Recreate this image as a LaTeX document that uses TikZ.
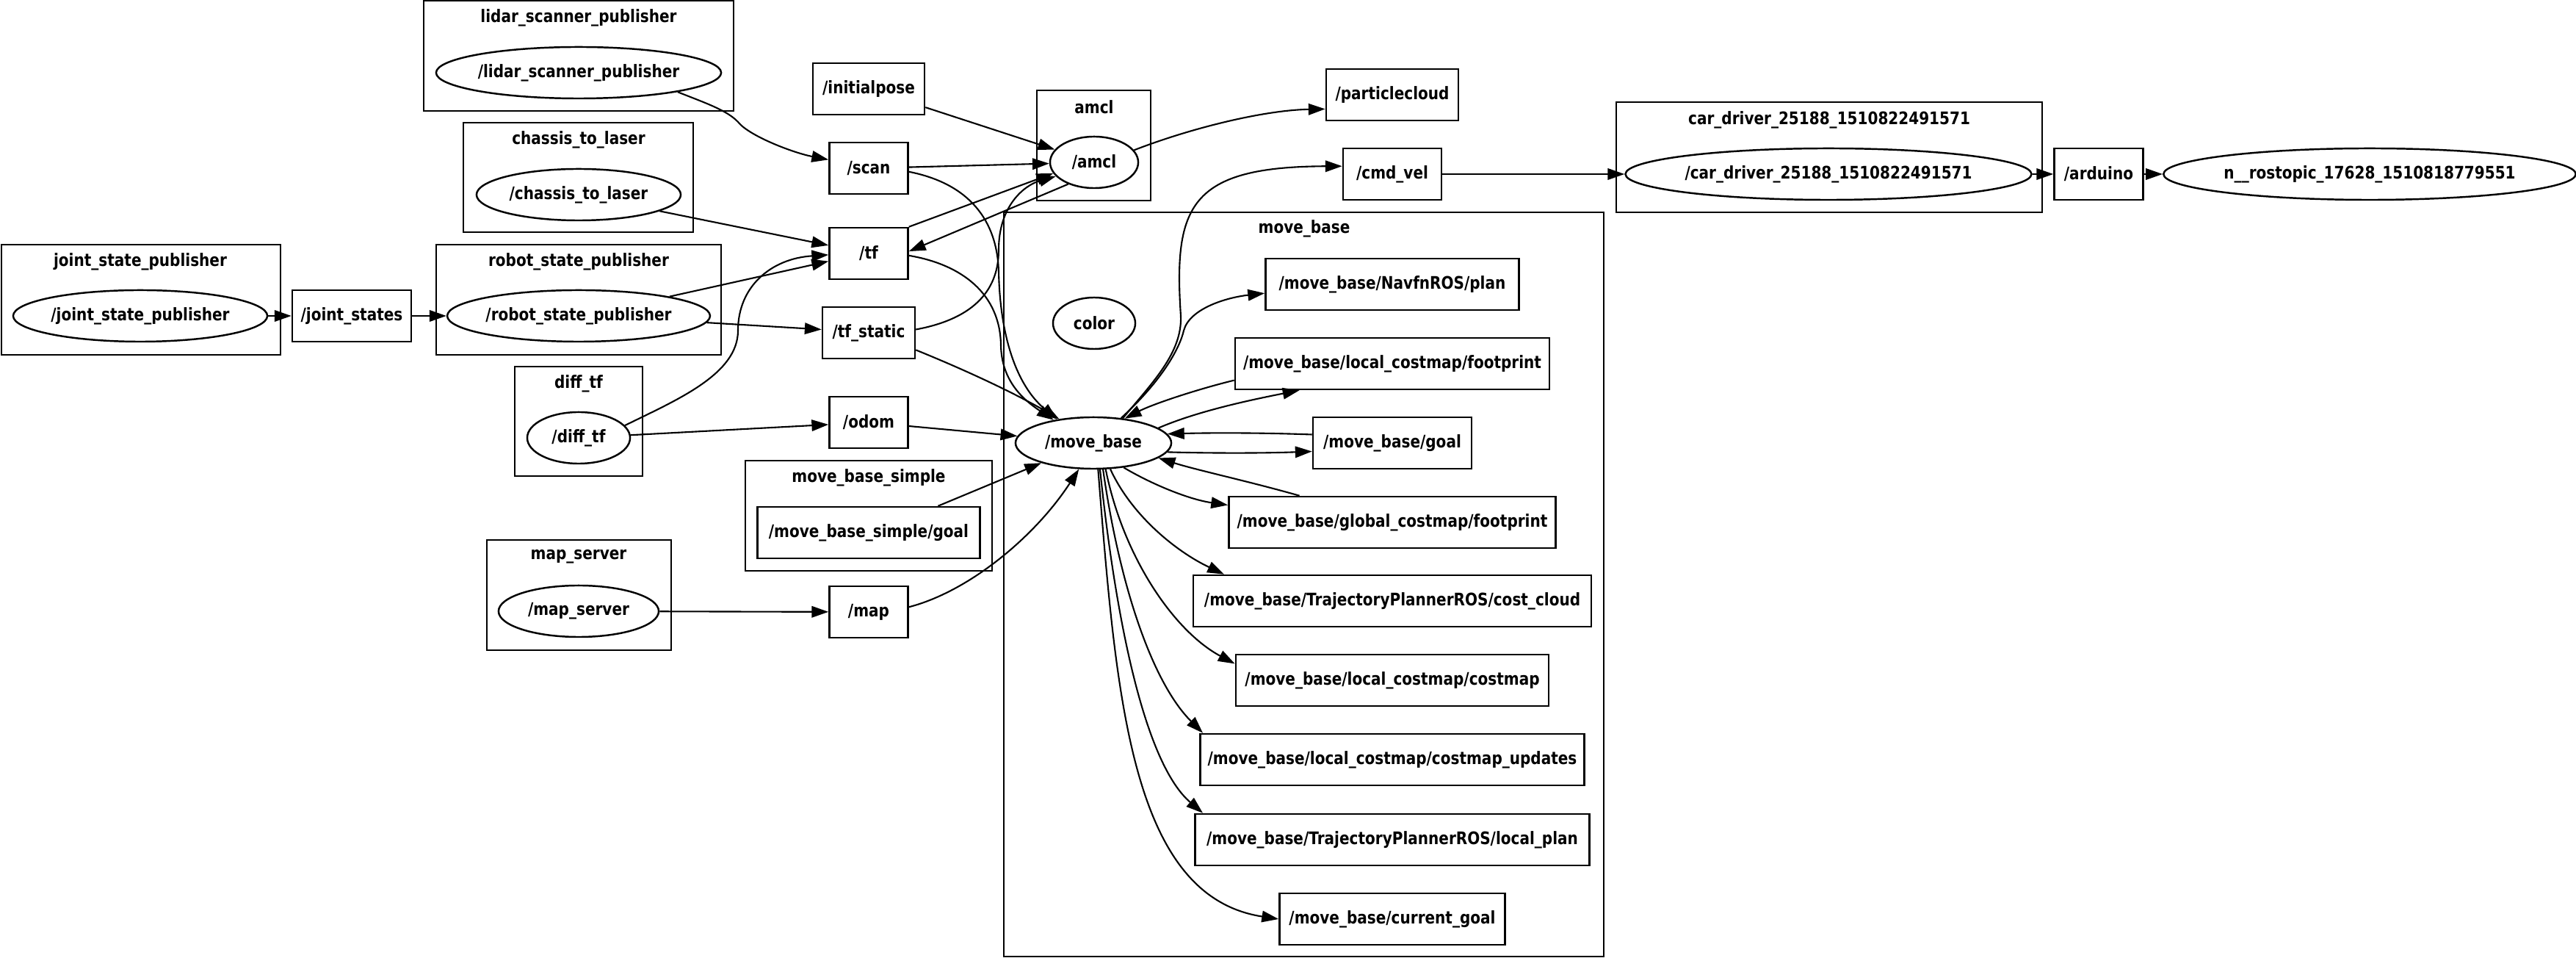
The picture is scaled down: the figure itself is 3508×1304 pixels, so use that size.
\documentclass[tikz,border=0pt]{standalone}
\usepackage{fontspec}
\setmainfont{DejaVu Sans}[FakeStretch=0.85]
\usetikzlibrary{arrows.meta,shapes.geometric}
\begin{document}
\begin{tikzpicture}[x=0.01cm,y=-0.01cm,
  lbl/.style={font=\fontsize{6.7}{8}\selectfont\bfseries},
  topic/.style={draw, line width=0.7pt, rectangle, inner sep=0pt, minimum height=0.7cm, lbl},
  nodeel/.style={draw, line width=0.7pt, ellipse, inner sep=0pt, minimum height=0.7cm, lbl},
  cluster/.style={draw, line width=0.8pt},
  edge/.style={line width=0.6pt, -{Triangle[length=6.5pt,width=4.4pt]}}]
\useasboundingbox (0,0) rectangle (3508,1304);

% clusters
\draw[cluster] (577,1) rectangle (999,151);
\node[lbl] (t1) at (788,24) {lidar\_scanner\_publisher};
\draw[cluster] (631,167) rectangle (944,316);
\node[lbl] (t2) at (788,190) {chassis\_to\_laser};
\draw[cluster] (2,333) rectangle (382,483);
\node[lbl] (t3) at (191,356) {joint\_state\_publisher};
\draw[cluster] (594,333) rectangle (982,483);
\node[lbl] (t4) at (788,356) {robot\_state\_publisher};
\draw[cluster] (701,499) rectangle (875,648);
\node[lbl] (t5) at (788,522) {diff\_tf};
\draw[cluster] (1015,627) rectangle (1351,777);
\node[lbl] (t6) at (1183,650) {move\_base\_simple};
\draw[cluster] (663,735) rectangle (914,885);
\node[lbl] (t7) at (788,758) {map\_server};
\draw[cluster] (1412,123) rectangle (1567,273);
\node[lbl] (t8) at (1490,146) {amcl};
\draw[cluster] (1367,289) rectangle (2184,1302);
\node[lbl] (t9) at (1776,311) {move\_base};
\draw[cluster] (2201,139) rectangle (2781,289);
\node[lbl] (t10) at (2491,163) {car\_driver\_25188\_1510822491571};

% nodes
\node[nodeel, minimum width=3.46cm] (jsp) at (191,430) {/joint\_state\_publisher};
\node[topic, minimum width=1.62cm] (js) at (479,430) {/joint\_states};
\node[nodeel, minimum width=3.88cm] (lsp) at (788,99) {/lidar\_scanner\_publisher};
\node[nodeel, minimum width=2.78cm] (ctl) at (788,265) {/chassis\_to\_laser};
\node[nodeel, minimum width=3.54cm] (rsp) at (788,430) {/robot\_state\_publisher};
\node[nodeel, minimum width=1.40cm] (dtf) at (788,596) {/diff\_tf};
\node[nodeel, minimum width=2.18cm] (ms) at (788,832) {/map\_server};
\node[topic, minimum width=1.52cm] (ip) at (1183,121) {/initialpose};
\node[topic, minimum width=1.07cm] (scan) at (1183,229) {/scan};
\node[topic, minimum width=1.07cm] (tf) at (1183,345) {/tf};
\node[topic, minimum width=1.26cm] (tfs) at (1183,453) {/tf\_static};
\node[topic, minimum width=1.07cm] (odom) at (1183,575) {/odom};
\node[topic, minimum width=3.03cm] (mbsg) at (1183,725) {/move\_base\_simple/goal};
\node[topic, minimum width=1.07cm] (map) at (1183,833) {/map};
\node[nodeel, minimum width=1.20cm] (amcl) at (1490,221) {/amcl};
\node[nodeel, minimum width=1.12cm] (color) at (1490,440) {color};
\node[nodeel, minimum width=2.12cm] (mb) at (1489,603) {/move\_base};
\node[topic, minimum width=1.80cm] (pc) at (1896,129) {/particlecloud};
\node[topic, minimum width=1.34cm] (cmd) at (1896,237) {/cmd\_vel};
\node[topic, minimum width=3.45cm] (plan) at (1896,387) {/move\_base/NavfnROS/plan};
\node[topic, minimum width=4.28cm] (lfp) at (1896,495) {/move\_base/local\_costmap/footprint};
\node[topic, minimum width=2.16cm] (goal) at (1896,603) {/move\_base/goal};
\node[topic, minimum width=4.45cm] (gfp) at (1896,711) {/move\_base/global\_costmap/footprint};
\node[topic, minimum width=5.42cm] (cc) at (1896,818) {/move\_base/TrajectoryPlannerROS/cost\_cloud};
\node[topic, minimum width=4.26cm] (lcm) at (1896,926) {/move\_base/local\_costmap/costmap};
\node[topic, minimum width=5.23cm] (lcu) at (1896,1034) {/move\_base/local\_costmap/costmap\_updates};
\node[topic, minimum width=5.37cm] (lp) at (1896,1143) {/move\_base/TrajectoryPlannerROS/local\_plan};
\node[topic, minimum width=3.07cm] (cg) at (1896,1251) {/move\_base/current\_goal};
\node[nodeel, minimum width=5.46cm] (cd) at (2490,237) {/car\_driver\_25188\_1510822491571};
\node[topic, minimum width=1.21cm] (ard) at (2858,237) {/arduino};
\node[nodeel, minimum width=5.56cm] (rt) at (3227,237) {n\_\_rostopic\_17628\_1510818779551};

% edges
\draw[edge] (lsp.-11) .. controls (960,140) and (990,150) .. (1005,166) .. controls (1020,185) and (1080,208) .. (scan.168);
\draw[edge] (ctl) -- (tf);
\draw[edge] (jsp) -- (js);
\draw[edge] (js) -- (rsp);
\draw[edge] (rsp.12) -- (tf.191.5);
\draw[edge] (rsp.-3) -- (tfs.176);
\draw[edge] (dtf.15) .. controls (920,545) and (1005,510) .. (1005,450) .. controls (1005,390) and (1050,352) .. (tf.182);
\draw[edge] (dtf) -- (odom);
\draw[edge] (ms) -- (map);
\draw[edge] (ip) -- (amcl);
\draw[edge] (scan) -- (amcl);
\draw[edge] (tf.north east) -- (amcl.195);
\draw[edge] (tfs.4) .. controls (1320,435) and (1360,400) .. (1360,340) .. controls (1360,280) and (1395,252) .. (amcl.200);
\draw[edge] (amcl.220) -- (tf.3);
\draw[edge] (amcl.17) .. controls (1620,175) and (1720,150) .. (pc.192);
\draw[edge] (scan.-5) .. controls (1320,250) and (1358,300) .. (1360,370) .. controls (1362,460) and (1385,525) .. (mb.147);
\draw[edge] (tf.-3) .. controls (1310,360) and (1362,400) .. (1363,470) .. controls (1364,520) and (1395,545) .. (mb.150);
\draw[edge] (tfs.-20) .. controls (1330,510) and (1390,540) .. (mb.145);
\draw[edge] (odom) -- (mb);
\draw[edge] (mbsg.21) -- (mb.201);
\draw[edge] (map.7) .. controls (1320,805) and (1410,730) .. (mb.241);
\draw[edge] (mb.40) .. controls (1570,520) and (1610,480) .. (1608,430) .. controls (1598,280) and (1620,227) .. (cmd.171);
\draw[edge] (mb.42) .. controls (1575,525) and (1605,480) .. (1612,450) .. controls (1620,420) and (1670,405) .. (plan.184);
\draw[edge] (lfp.186) .. controls (1630,530) and (1570,550) .. (mb.38);
\draw[edge] (mb.13) .. controls (1630,560) and (1700,545) .. (lfp.196);
\draw[edge] (goal.174) .. controls (1720,589) and (1650,589) .. (mb.7);
\draw[edge] (mb.-7) .. controls (1650,617) and (1720,617) .. (goal.186);
\draw[edge] (gfp.164) .. controls (1700,655) and (1630,640) .. (mb.-13);
\draw[edge] (mb.-39) .. controls (1570,660) and (1620,680) .. (gfp.174);
\draw[edge] (mb.-57) .. controls (1540,700) and (1600,750) .. (cc.171.6);
\draw[edge] (mb.-65) .. controls (1530,760) and (1600,860) .. (lcm.174);
\draw[edge] (mb.-70) .. controls (1525,800) and (1570,930) .. (lcu.172);
\draw[edge] (mb.-76) .. controls (1520,850) and (1560,1040) .. (lp.172);
\draw[edge] (mb.-80) .. controls (1520,950) and (1540,1220) .. (cg.180);
\draw[edge] (cmd) -- (cd);
\draw[edge] (cd) -- (ard);
\draw[edge] (ard) -- (rt);
\end{tikzpicture}
\end{document}
